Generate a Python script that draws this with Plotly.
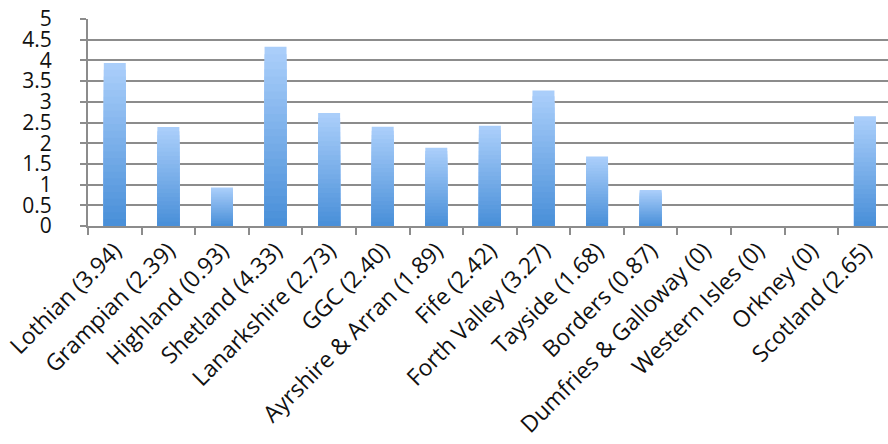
import plotly.graph_objects as go

categories = ["Lothian (3.94)", "Grampian (2.39)", "Highland (0.93)", "Shetland (4.33)",
              "Lanarkshire (2.73)", "GGC (2.40)", "Ayrshire & Arran (1.89)", "Fife (2.42)",
              "Forth Valley (3.27)", "Tayside (1.68)", "Borders (0.87)",
              "Dumfries & Galloway (0)", "Western Isles (0)", "Orkney (0)", "Scotland (2.65)"]
values = [3.94, 2.39, 0.93, 4.33, 2.73, 2.40, 1.89, 2.42, 3.27, 1.68, 0.87, 0, 0, 0, 2.65]
y_ticks = [0, 0.5, 1, 1.5, 2, 2.5, 3, 3.5, 4, 4.5, 5]

top_rgb = (170, 206, 250)
bot_rgb = (74, 144, 217)
N = 24

fig = go.Figure()
for k in range(N):
    f = k / (N - 1)
    c = tuple(round(top_rgb[i] + (bot_rgb[i] - top_rgb[i]) * f) for i in range(3))
    frac = 1 - k / N
    fig.add_trace(go.Bar(
        x=categories, y=[v * frac for v in values],
        marker=dict(color="rgb(%d,%d,%d)" % c, line=dict(width=0)),
        width=0.41, showlegend=False, hoverinfo="skip"))

fig.update_layout(
    width=888, height=444,
    barmode="overlay",
    margin=dict(l=88, r=0, t=19, b=218),
    paper_bgcolor="white", plot_bgcolor="white",
    font=dict(family="Open Sans", color="#111111"),
    xaxis=dict(
        type="category", range=[-0.5, 14.43], tickangle=-45, automargin=False,
        tickson="boundaries", ticks="outside", ticklen=7, tickwidth=2, tickcolor="#8c8c8c",
        showline=True, linecolor="#8c8c8c", linewidth=2, showgrid=False,
        tickfont=dict(size=23, family="Open Sans", color="#111111"),
    ),
    yaxis=dict(
        range=[0, 5], tickvals=y_ticks, ticktext=[("%g" % t) for t in y_ticks],
        automargin=False,
        ticks="outside", ticklen=6, tickwidth=2, tickcolor="#8c8c8c",
        ticklabelstandoff=24,
        showline=True, linecolor="#8c8c8c", linewidth=2,
        showgrid=True, gridcolor="#8c8c8c", gridwidth=2, zeroline=False,
        tickfont=dict(size=21, family="Open Sans", color="#111111"),
    ),
)

fig.write_html("out.html")
